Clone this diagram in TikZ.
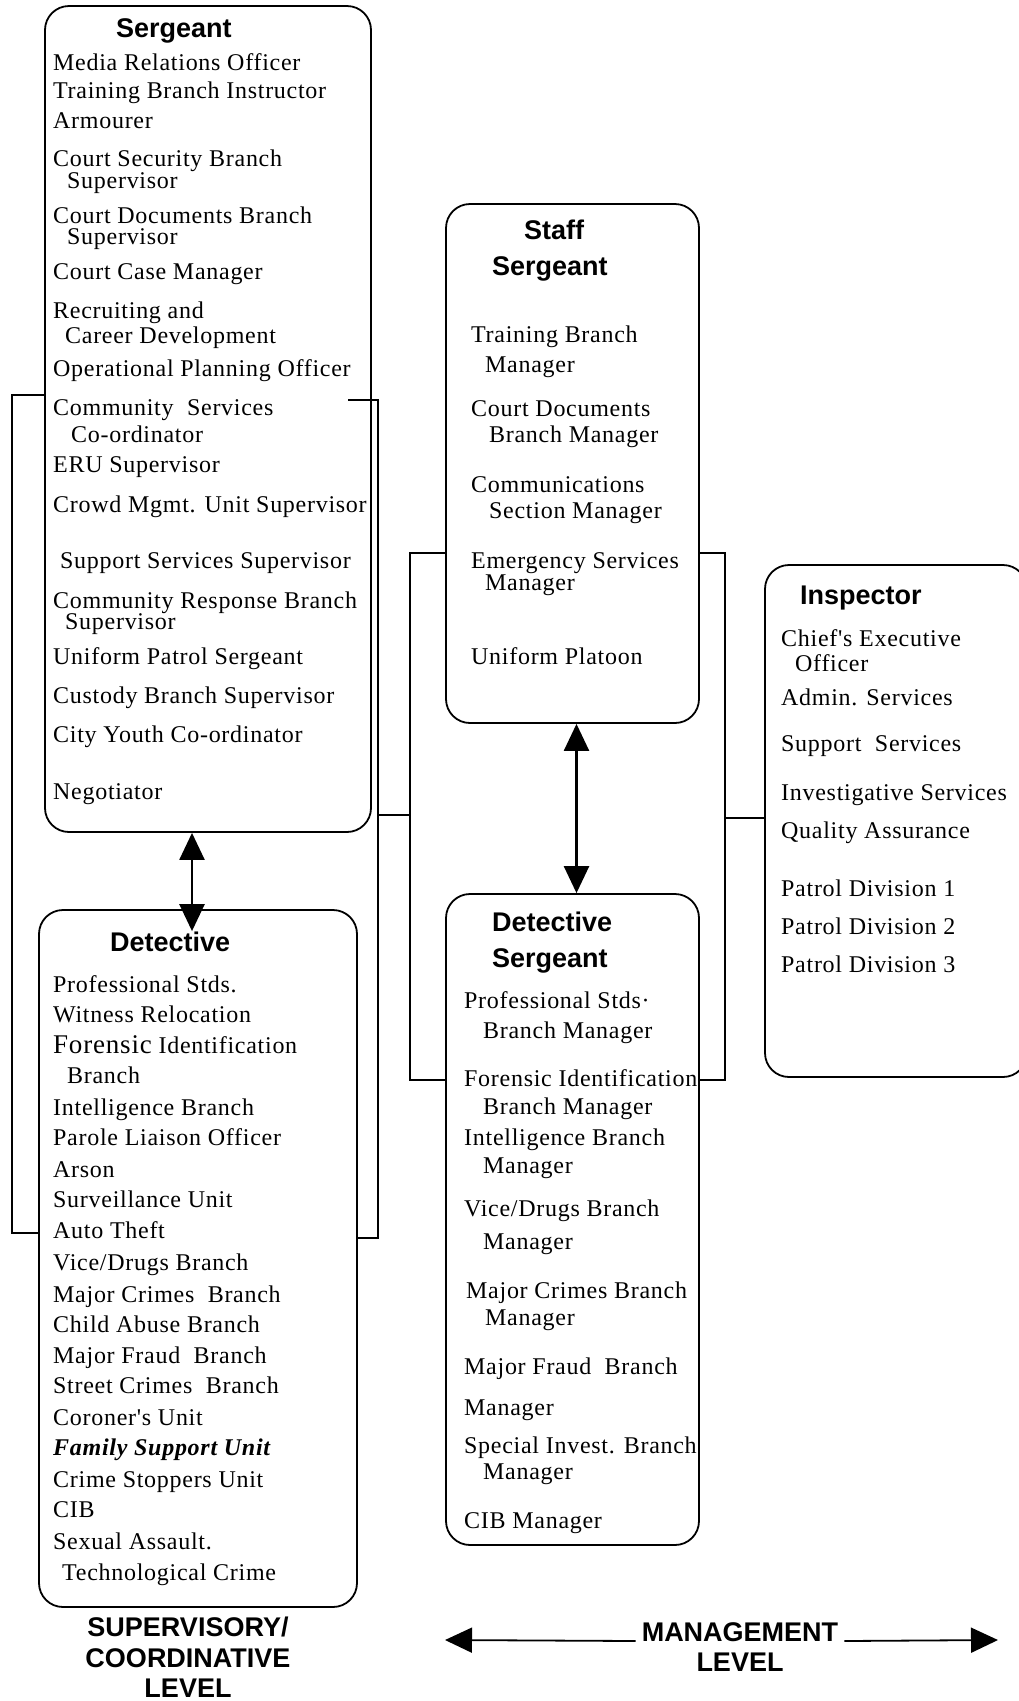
\documentclass[tikz,border=0pt]{standalone}
\usepackage{fontspec}
\setmainfont{Liberation Serif}
\newfontfamily\itemfont[LetterSpace=3]{Liberation Serif}
\newfontfamily\headfont{Liberation Sans}
\usetikzlibrary{arrows.meta}

\begin{document}
\begin{tikzpicture}[x=1pt,y=-1pt,
	rankbox/.style={draw,line width=1.8pt,rounded corners=24pt,inner sep=0pt},
	item/.style={anchor=base west,inner sep=0pt,font=\itemfont\fontsize{24}{28}\selectfont},
	head/.style={anchor=base west,inner sep=0pt,font=\headfont\bfseries\fontsize{27}{32}\selectfont},
	link/.style={line width=1.8pt},
	updown/.style={line width=2.4pt,{Triangle[length=27pt,width=25pt]}-{Triangle[length=27pt,width=25pt]}}]
				\useasboundingbox (0,0) rectangle (1019,1701);
				% rank boxes
				\node[rankbox,minimum width=326pt,minimum height=826pt] (sgt) at (208,419) {};
				\node[rankbox,minimum width=318pt,minimum height=697pt] (det) at (198,1258.5) {};
				\node[rankbox,minimum width=253pt,minimum height=519pt] (ssgt) at (572.5,463.5) {};
				\node[rankbox,minimum width=253pt,minimum height=651pt] (dsgt) at (572.5,1219.5) {};
				\node[rankbox,minimum width=262pt,minimum height=512pt] (insp) at (896,821) {};
				% Sergeant
				\node[head] (sgthead) at (116,37) {Sergeant};
				\node[item] (s1) at (53,70) {Media Relations Officer};
				\node[item] (s2) at (53,98) {Training Branch Instructor};
				\node[item] (s3) at (53,128) {Armourer};
				\node[item] (s4) at (53,166) {Court Security Branch};
				\node[item] (s4b) at (67,188) {Supervisor};
				\node[item] (s5) at (53,223) {Court Documents Branch};
				\node[item] (s5b) at (67,244) {Supervisor};
				\node[item] (s6) at (53,279) {Court Case Manager};
				\node[item] (s7) at (53,318) {Recruiting and};
				\node[item] (s7b) at (65,343) {Career Development};
				\node[item] (s8) at (53,376) {Operational Planning Officer};
				\node[item] (s9) at (53,415) {Community\ \ Services};
				\node[item] (s9b) at (71,442) {Co-ordinator};
				\node[item] (s10) at (53,472) {ERU Supervisor};
				\node[item] (s11) at (53,512) {Crowd Mgmt. Unit Supervisor};
				\node[item] (s12) at (60,568) {Support Services Supervisor};
				\node[item] (s13) at (53,608) {Community Response Branch};
				\node[item] (s13b) at (65,629) {Supervisor};
				\node[item] (s14) at (53,664) {Uniform Patrol Sergeant};
				\node[item] (s15) at (53,703) {Custody Branch Supervisor};
				\node[item] (s16) at (53,742) {City Youth Co-ordinator};
				\node[item] (s17) at (53,799) {Negotiator};
				% Detective
				\node[head] (dethead) at (110,951) {Detective};
				\node[item] (d1) at (53,992) {Professional Stds.};
				\node[item] (d2) at (53,1022) {Witness Relocation};
				\node[item] (d3) at (53,1053) {{\fontsize{27}{30}\selectfont Forensic} Identification};
				\node[item] (d3b) at (67,1083) {Branch};
				\node[item] (d4) at (53,1115) {Intelligence Branch};
				\node[item] (d5) at (53,1145) {Parole Liaison Officer};
				\node[item] (d6) at (53,1177) {Arson};
				\node[item] (d7) at (53,1207) {Surveillance Unit};
				\node[item] (d8) at (53,1238) {Auto Theft};
				\node[item] (d9) at (53,1270) {Vice/Drugs Branch};
				\node[item] (d10) at (53,1302) {Major Crimes\ \ Branch};
				\node[item] (d11) at (53,1332) {Child Abuse Branch};
				\node[item] (d12) at (53,1363) {Major Fraud\ \ Branch};
				\node[item] (d13) at (53,1393) {Street Crimes\ \ Branch};
				\node[item] (d14) at (53,1425) {Coroner's Unit};
				\node[item] (d15) at (53,1455) {\bfseries\itshape Family Support Unit};
				\node[item] (d16) at (53,1487) {Crime Stoppers Unit};
				\node[item] (d17) at (53,1517) {CIB};
				\node[item] (d18) at (53,1549) {Sexual Assault.};
				\node[item] (d19) at (62,1580) {Technological Crime};
				% Staff Sergeant
				\node[head,anchor=base] (sshead1) at (554,239) {Staff};
				\node[head] (sshead2) at (492,275) {Sergeant};
				\node[item] (ss1) at (471,342) {Training Branch};
				\node[item] (ss1b) at (485,372) {Manager};
				\node[item] (ss2) at (471,416) {Court Documents};
				\node[item] (ss2b) at (489,442) {Branch Manager};
				\node[item] (ss3) at (471,492) {Communications};
				\node[item] (ss3b) at (489,518) {Section Manager};
				\node[item] (ss4) at (471,568) {Emergency Services};
				\node[item] (ss4b) at (485,590) {Manager};
				\node[item] (ss5) at (471,664) {Uniform Platoon};
				% Detective Sergeant
				\node[head] (dshead1) at (492,931) {Detective};
				\node[head] (dshead2) at (492,967) {Sergeant};
				\node[item] (ds1) at (464,1008) {Professional Stds·};
				\node[item] (ds1b) at (483,1038) {Branch Manager};
				\node[item] (ds2) at (464,1086) {Forensic Identification};
				\node[item] (ds2b) at (483,1114) {Branch Manager};
				\node[item] (ds3) at (464,1145) {Intelligence Branch};
				\node[item] (ds3b) at (483,1173) {Manager};
				\node[item] (ds4) at (464,1216) {Vice/Drugs Branch};
				\node[item] (ds4b) at (483,1249) {Manager};
				\node[item] (ds5) at (466,1298) {Major Crimes Branch};
				\node[item] (ds5b) at (485,1325) {Manager};
				\node[item] (ds6) at (464,1374) {Major Fraud\ \ Branch};
				\node[item] (ds6b) at (464,1415) {Manager};
				\node[item] (ds7) at (464,1453) {Special Invest. Branch};
				\node[item] (ds7b) at (483,1479) {Manager};
				\node[item] (ds8) at (464,1528) {CIB Manager};
				% Inspector
				\node[head] (insphead) at (800,604) {Inspector};
				\node[item] (i1) at (781,646) {Chief's Executive};
				\node[item] (i1b) at (795,671) {Officer};
				\node[item] (i2) at (781,705) {Admin. Services};
				\node[item] (i3) at (781,751) {Support\ \ Services};
				\node[item] (i4) at (781,800) {Investigative Services};
				\node[item] (i5) at (781,838) {Quality Assurance};
				\node[item] (i6) at (781,896) {Patrol Division 1};
				\node[item] (i7) at (781,934) {Patrol Division 2};
				\node[item] (i8) at (781,972) {Patrol Division 3};
				% level captions
				\node[head,anchor=north,align=center,font=\headfont\bfseries\fontsize{27}{30.5}\selectfont] (suplevel) at (188,1617) {SUPERVISORY/\\COORDINATIVE\\LEVEL};
				\node[head,anchor=base,inner xsep=6pt] (mgmt) at (740,1641) {MANAGEMENT};
				\node[head,anchor=base] (mgmtlevel) at (740,1671) {LEVEL};
				\coordinate (mgleft) at (445,1640);
				\coordinate (mgright) at (998,1640);
				\draw[link,-{Triangle[length=27pt,width=25pt]}] (mgmt.base west) -- (mgleft);
				\draw[link,-{Triangle[length=27pt,width=25pt]}] (mgmt.base east) -- (mgright);
				% arrows between ranks
				\draw[updown] ([xshift=-6pt]det.north |- sgt.south) -- ([xshift=-6pt,yshift=-22pt]det.north);
				\draw[updown] ([xshift=4pt]ssgt.south) -- ([xshift=4pt]dsgt.north);
				% brackets
				\coordinate (lbtop) at (12,395);
				\coordinate (lbbot) at (12,1233);
				\draw[link] (sgt.west |- lbtop) -- (lbtop) -- (lbbot) -- (det.west |- lbbot);
				\coordinate (rbin) at (348,400);
				\coordinate (rbtop) at (378,400);
				\coordinate (rbbot) at (378,1238);
				\draw[link] (rbin) -- (rbtop) -- (rbbot) -- (det.east |- rbbot);
				\coordinate (mltop) at (410,553);
				\coordinate (mlbot) at (410,1080);
				\coordinate (mljoin) at (410,815);
				\draw[link] (ssgt.west |- mltop) -- (mltop) -- (mlbot) -- (dsgt.west |- mlbot);
				\draw[link] (rbtop |- mljoin) -- (mljoin);
				\coordinate (mrtop) at (725,553);
				\coordinate (mrbot) at (725,1080);
				\coordinate (mrjoin) at (725,818);
				\draw[link] (ssgt.east |- mrtop) -- (mrtop) -- (mrbot) -- (dsgt.east |- mrbot);
				\draw[link] (mrjoin) -- (insp.west |- mrjoin);
			\end{tikzpicture}
\end{document}
